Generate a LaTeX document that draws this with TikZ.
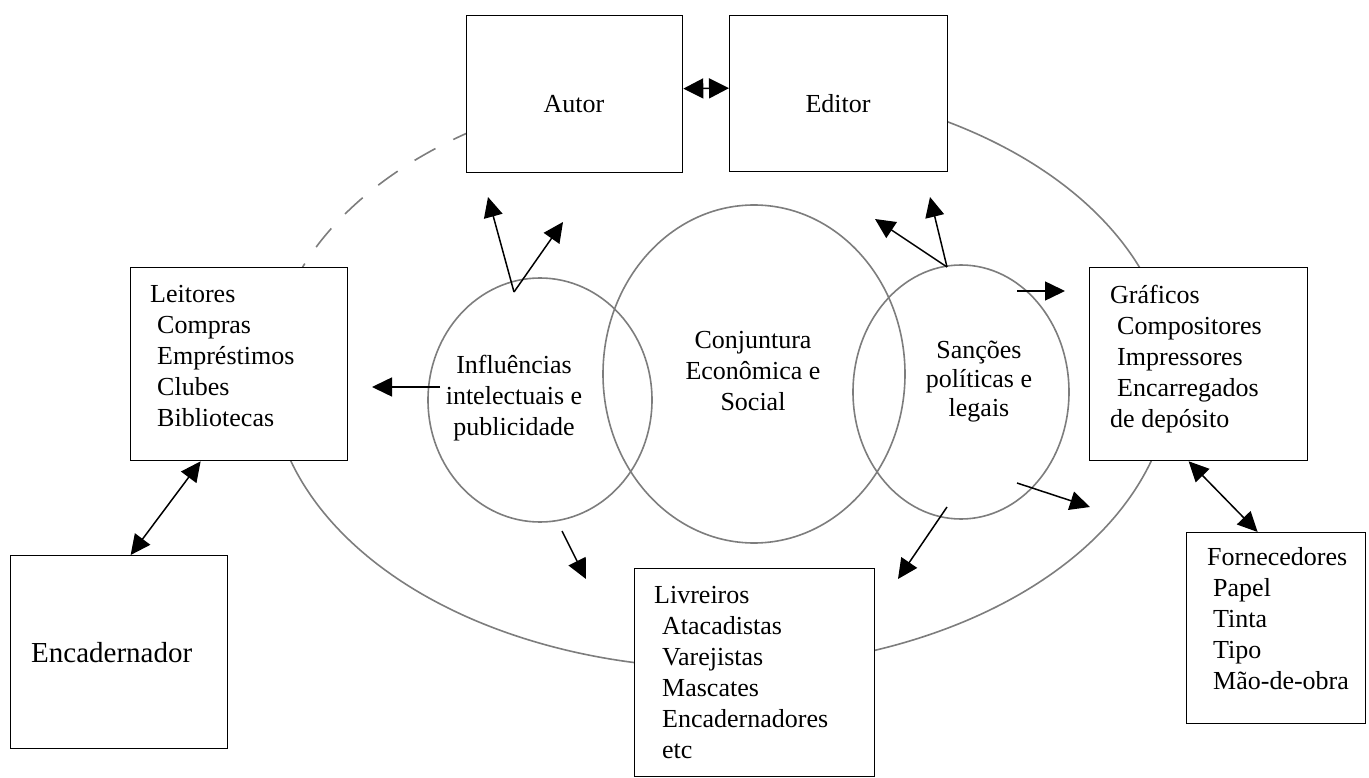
\documentclass[tikz,border=0pt]{standalone}
\usepackage{fontspec}
\setmainfont{Liberation Serif}
\usetikzlibrary{arrows.meta}
\definecolor{circgray}{RGB}{125,125,125}
\begin{document}
\begin{tikzpicture}[x=1pt,y=-1pt,
  boxnode/.style={draw=black, line width=1.3pt, fill=white, inner sep=0pt, anchor=north west},
  txt/.style={font=\fontsize{26}{31}\selectfont, inner sep=0pt, align=left, anchor=north west},
  ctxt/.style={font=\fontsize{26}{31}\selectfont, inner sep=0pt, align=center, anchor=north},
  ring/.style={draw=circgray, line width=1.6pt},
  arr/.style={line width=1.5pt, -{Triangle[length=20pt,width=19pt]}},
  darr/.style={line width=1.5pt, {Triangle[length=20pt,width=19pt]}-{Triangle[length=20pt,width=19pt]}}
]
\useasboundingbox (0,0) rectangle (1369,778);
% outer ellipse
\coordinate (oc) at (721,375);
\draw[ring, dash pattern=on 24pt off 20pt] (oc) ++(198:450 and 293) arc[start angle=198, end angle=240, x radius=450, y radius=293];
\draw[ring] (oc) ++(293:450 and 293) arc[start angle=293, end angle=558, x radius=450, y radius=293];
% circles
\draw[ring] (540,400) ellipse[x radius=112, y radius=122];
\draw[ring] (754,374) ellipse[x radius=151, y radius=169];
\draw[ring] (961,392) ellipse[x radius=108, y radius=127];
% boxes
\node[boxnode, minimum width=216pt, minimum height=157pt] (autor) at (466,15) {};
\node[boxnode, minimum width=218pt, minimum height=156pt] (editor) at (729,15) {};
\node[boxnode, minimum width=217pt, minimum height=193pt] (leitores) at (130,267) {};
\node[boxnode, minimum width=217pt, minimum height=193pt] (encad) at (10,555) {};
\node[boxnode, minimum width=218pt, minimum height=193pt] (graficos) at (1089,267) {};
\node[boxnode, minimum width=179pt, minimum height=191pt] (fornec) at (1186,532) {};
\node[boxnode, minimum width=240pt, minimum height=208pt] (livreiros) at (634,568) {};
% texts
\node[font=\fontsize{26}{31}\selectfont, inner sep=0pt, anchor=base] (tautor) at (574,113) {Autor};
\node[font=\fontsize{26}{31}\selectfont, inner sep=0pt, anchor=base] (teditor) at (838,113) {Editor};
\node[font=\fontsize{29}{34}\selectfont, inner sep=0pt, anchor=base west] (tencad) at (31,662) {Encadernador};
\node[txt] (tleitores) at (150,280.3) {\strut Leitores\\\hspace*{7pt}Compras\\\hspace*{7pt}Empréstimos\\\hspace*{7pt}Clubes\\\hspace*{7pt}Bibliotecas};
\node[txt] (tgraficos) at (1110,281.3) {\strut Gráficos\\\hspace*{7pt}Compositores\\\hspace*{7pt}Impressores\\\hspace*{7pt}Encarregados\\de depósito};
\node[txt] (tfornec) at (1207,543.3) {\strut Fornecedores\\\hspace*{6pt}Papel\\\hspace*{6pt}Tinta\\\hspace*{6pt}Tipo\\\hspace*{6pt}Mão-de-obra};
\node[txt] (tlivreiros) at (654,581.3) {\strut Livreiros\\\hspace*{8pt}Atacadistas\\\hspace*{8pt}Varejistas\\\hspace*{8pt}Mascates\\\hspace*{8pt}Encadernadores\\\hspace*{8pt}etc};
\node[ctxt] (tinfl) at (514,351.3) {\strut Influências\\intelectuais e\\publicidade};
\node[ctxt] (tconj) at (753,326.3) {\strut Conjuntura\\Econômica e\\Social};
\node[ctxt, font=\fontsize{26}{29}\selectfont] (tsanc) at (979,337.7) {\strut Sanções\\políticas e\\legais};
% arrow end points
\coordinate (ia) at (514,292);
\coordinate (ia1) at (488,197);
\coordinate (ia2) at (563,222);
\coordinate (ib) at (440,387);
\coordinate (ib1) at (372,387);
\coordinate (ic) at (562,531);
\coordinate (ic1) at (586,579);
\coordinate (sa) at (947,267);
\coordinate (sa1) at (875,219);
\coordinate (sa2) at (930,197);
\coordinate (sb) at (1017,291);
\coordinate (sb1) at (1065,291);
\coordinate (sc) at (1017,483);
\coordinate (sc1) at (1090,507);
\coordinate (sd) at (947,507);
\coordinate (sd1) at (898,579);
% connectors
\draw[line width=1.5pt, {Triangle[length=20pt,width=20pt]}-{Triangle[length=20pt,width=20pt]}] ([yshift=5.5pt]autor.east) -- ([yshift=5.5pt]editor.west);
\draw[darr] ([xshift=-38.5pt]leitores.south) -- ([xshift=11.5pt]encad.north);
\draw[darr] ([xshift=-10pt]graficos.south) -- ([xshift=-18.5pt]fornec.north);
\draw[arr] (ia) -- (ia1);
\draw[arr] (ia) -- (ia2);
\draw[arr] (ib) -- (ib1);
\draw[arr] (ic) -- (ic1);
\draw[arr] (sa) -- (sa1);
\draw[arr] (sa) -- (sa2);
\draw[arr] (sb) -- (sb1);
\draw[arr] (sc) -- (sc1);
\draw[arr] (sd) -- (sd1);
\end{tikzpicture}
\end{document}
